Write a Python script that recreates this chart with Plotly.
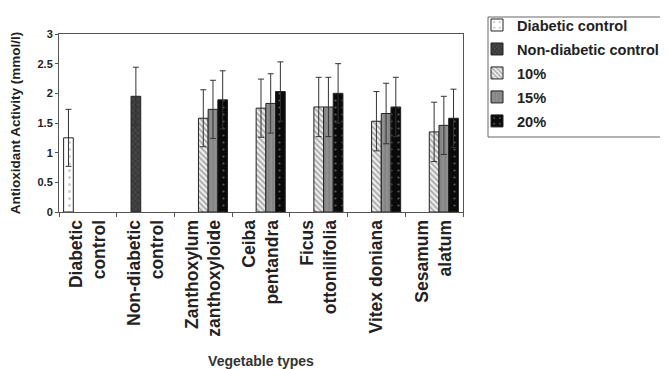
import plotly.graph_objects as go

categories = ["Diabetic<br>control", "Non-diabetic<br>control", "Zanthoxylum<br>zanthoxyloide",
              "Ceiba<br>pentandra", "Ficus<br>ottonilifolia", "Vitex doniana", "Sesamum<br>alatum"]

diabetic = [1.25, None, None, None, None, None, None]
diabetic_err = [0.48, None, None, None, None, None, None]
nondiabetic = [None, 1.95, None, None, None, None, None]
nondiabetic_err = [None, 0.49, None, None, None, None, None]
pct10 = [None, None, 1.58, 1.75, 1.77, 1.53, 1.35]
pct10_err = [None, None, 0.48, 0.49, 0.50, 0.50, 0.50]
pct15 = [None, None, 1.73, 1.83, 1.77, 1.66, 1.46]
pct15_err = [None, None, 0.49, 0.50, 0.50, 0.51, 0.49]
pct20 = [None, None, 1.89, 2.03, 2.00, 1.77, 1.58]
pct20_err = [None, None, 0.49, 0.50, 0.50, 0.50, 0.49]

series = [
    ("Diabetic control", diabetic, diabetic_err, dict(color="white", pattern=dict(shape=".", bgcolor="white", fgcolor="#999", size=7, solidity=0.15))),
    ("Non-diabetic control", nondiabetic, nondiabetic_err, dict(color="#333", pattern=dict(shape="x", bgcolor="#444", fgcolor="#111", size=4, solidity=0.3))),
    ("10%", pct10, pct10_err, dict(color="#ddd", pattern=dict(shape="\\", bgcolor="#eee", fgcolor="#555", size=4, solidity=0.4))),
    ("15%", pct15, pct15_err, dict(color="#8a8a8a", pattern=dict(shape="|", bgcolor="#8f8f8f", fgcolor="#6e6e6e", size=4, solidity=0.3))),
    ("20%", pct20, pct20_err, dict(color="#111", pattern=dict(shape=".", bgcolor="#0a0a0a", fgcolor="#aaa", size=7, solidity=0.08))),
]

fig = go.Figure()
for i, (name, vals, errs, mk) in enumerate(series):
    mk = dict(mk)
    mk["line"] = dict(color="#222", width=1)
    fig.add_trace(go.Bar(
        x=categories, y=vals, name=name, marker=mk, legendgroup=f"g{i}",
        error_y=dict(type="data", array=errs, symmetric=True, color="#333", thickness=1, width=3),
    ))

# figure sits at an 8px page offset; plot area spans screen x 59..463, y 34..212
W, H = 660, 361
L, T = 51, 26
PW, PH = 404, 178
font_family = "Liberation Sans, Arial, sans-serif"

# legend frame drawn as a shape (screen x 489.., y 17..137)
fig.add_shape(type="rect", xref="paper", yref="paper",
              x0=(488 - 59) / PW, x1=(700 - 59) / PW,
              y0=(212 - 137) / PH, y1=(212 - 17) / PH,
              line=dict(color="#666", width=1), fillcolor="rgba(0,0,0,0)", layer="above")

fig.update_layout(
    width=W, height=H,
    margin=dict(l=L, r=W - L - PW, t=T, b=H - T - PH, autoexpand=False),
    paper_bgcolor="white", plot_bgcolor="white",
    barmode="group", bargap=0.16, bargroupgap=0,
    font=dict(family=font_family, color="#222"),
    showlegend=True,
    legend=dict(
        x=(477 - 59) / PW, y=(212 - 9) / PH, xanchor="left", yanchor="top",
        font=dict(family=font_family, size=14.6, color="#222", weight="bold"),
        borderwidth=0, bgcolor="rgba(0,0,0,0)",
        traceorder="grouped", tracegroupgap=2,
    ),
    xaxis=dict(
        type="category", tickson="boundaries", ticks="outside", ticklen=4,
        tickcolor="#555", tickangle=-90, showline=True, linecolor="#555", linewidth=1, mirror=True,
        showgrid=False,
        tickfont=dict(family=font_family, size=17.5, color="#222", weight="bold"),
        title=dict(text="Vegetable types", font=dict(family=font_family, size=14, color="#333", weight="bold"), standoff=20),
    ),
    yaxis=dict(
        range=[0, 3], dtick=0.5, ticks="outside", ticklen=3, tickcolor="#555",
        showline=True, linecolor="#555", linewidth=1, mirror=True, showgrid=False, zeroline=False,
        tickfont=dict(family=font_family, size=11, color="#222", weight="bold"),
        title=dict(text="Antioxidant Activity (mmol/l)", font=dict(family=font_family, size=13.5, color="#222", weight="bold"), standoff=15),
    ),
)

fig.write_html("out.html")
